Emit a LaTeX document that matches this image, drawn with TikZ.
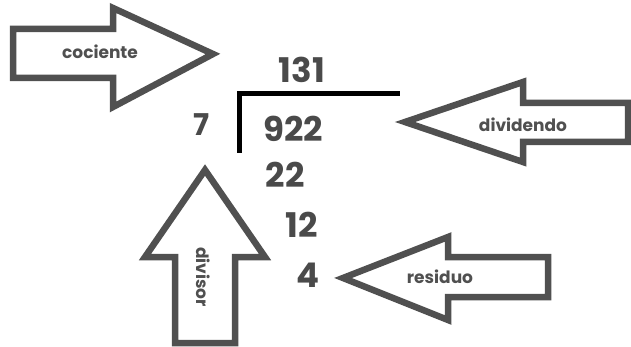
\documentclass[tikz,border=0pt]{standalone}
\usepackage{fontspec}
\setmainfont{Poppins}
\definecolor{arrowgray}{HTML}{505050}
\definecolor{numgray}{HTML}{4A4A4A}
\tikzset{
  blockarrow/.style={draw=arrowgray, line width=6.5pt, line join=miter, fill=white},
  arrowlabel/.style={text=arrowgray, font=\fontsize{17}{17}\selectfont\bfseries, inner sep=0pt},
  digits/.style={text=numgray, font=\fontsize{34}{34}\selectfont\bfseries, inner sep=0pt},
  bracket/.style={line width=5pt, draw=black}
}
\begin{document}
\begin{tikzpicture}[x=1pt, y=-1pt]
  \useasboundingbox (0,0) rectangle (631,347);

  % the division
  \node[digits] (quot) at (302,70) {131};
  \node[digits, font=\fontsize{30}{30}\selectfont\bfseries] (div) at (202,125) {7};
  \node[digits] (dvd) at (293,129) {922};
  \node[digits] (r-1) at (285,175) {22};
  \node[digits] (r-2) at (302,225) {12};
  \node[digits] (rest) at (308,275) {4};
  \draw[bracket] (239,153) -- (239,94) -- (400,94);

  % the arrows
  \draw[blockarrow] (13,29) -- (113,29) -- (113,8) -- (213,54) -- (113,107) -- (113,78) -- (13,78) -- cycle;
  \node[arrowlabel] (lbl-quot) at (100,52) {cociente};

  \draw[blockarrow] (405,122) -- (523,82) -- (523,103) -- (628,103) -- (628,142) -- (523,142) -- (523,162) -- cycle;
  \node[arrowlabel] (lbl-dvd) at (523,125) {dividendo};

  \draw[blockarrow] (205,170) -- (265,257) -- (235,257) -- (235,343) -- (175,343) -- (175,257) -- (145,257) -- cycle;
  \node[arrowlabel, rotate=-90] (lbl-div) at (203,277) {divisor};

  \draw[blockarrow] (343,278) -- (448,237) -- (448,257) -- (548,257) -- (548,297) -- (448,297) -- (448,320) -- cycle;
  \node[arrowlabel] (lbl-rest) at (440,277) {residuo};
\end{tikzpicture}
\end{document}
